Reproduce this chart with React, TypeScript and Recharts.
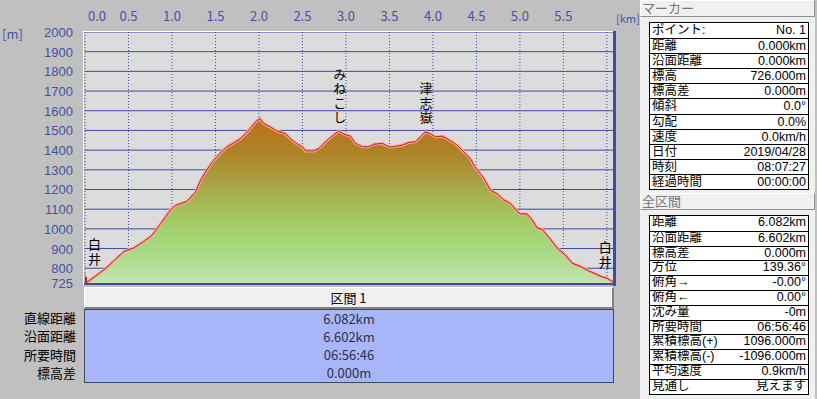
import React from 'react';
import { ComposedChart, Area, Line, Scatter, XAxis, YAxis, CartesianGrid } from 'recharts';

const distanceKm = [0, 0.03, 0.12, 0.24, 0.33, 0.45, 0.56, 0.68, 0.77, 0.87, 0.98, 1.04, 1.17, 1.27, 1.33, 1.40, 1.48, 1.56, 1.63, 1.71, 1.79, 1.845, 1.90, 1.96, 2.01, 2.055, 2.13, 2.21, 2.305, 2.36, 2.44, 2.50, 2.535, 2.63, 2.69, 2.765, 2.84, 2.92, 2.976, 3.05, 3.11, 3.19, 3.265, 3.32, 3.42, 3.49, 3.55, 3.645, 3.72, 3.80, 3.856, 3.91, 3.97, 4.03, 4.105, 4.16, 4.24, 4.30, 4.355, 4.41, 4.44, 4.47, 4.51, 4.585, 4.66, 4.74, 4.815, 4.89, 4.97, 5.005, 5.08, 5.14, 5.20, 5.255, 5.35, 5.43, 5.52, 5.60, 5.695, 5.79, 5.89, 5.945, 6.00, 6.06, 6.082];
const elevationM = [726, 731, 760, 800, 837, 886, 903, 937, 967, 1026, 1094, 1119, 1139, 1186, 1248, 1299, 1349, 1386, 1417, 1437, 1459, 1484, 1510, 1543, 1560, 1535, 1518, 1496, 1484, 1459, 1430, 1417, 1396, 1396, 1409, 1442, 1471, 1498, 1481, 1471, 1434, 1417, 1417, 1430, 1434, 1417, 1417, 1425, 1439, 1442, 1467, 1491, 1484, 1467, 1471, 1459, 1437, 1417, 1391, 1366, 1349, 1324, 1300, 1257, 1197, 1177, 1147, 1130, 1088, 1076, 1076, 1046, 1004, 998, 948, 902, 868, 826, 809, 787, 767, 756, 750, 733, 726];

const xTicks = [0, 0.5, 1.0, 1.5, 2.0, 2.5, 3.0, 3.5, 4.0, 4.5, 5.0, 5.5, 6.0];
const yTicks = [725, 800, 900, 1000, 1100, 1200, 1300, 1400, 1500, 1600, 1700, 1800, 1900, 2000];

const annotationKm = [0.11, 2.93, 3.92, 5.98];
const annotationElev = [808, 1527, 1527, 792];
const annotationText = ['白井', 'みねこし', '津志嶽', '白井'];

const markerLabels = ['ポイント:', '距離', '沿面距離', '標高', '標高差', '傾斜', '勾配', '速度', '日付', '時刻', '経過時間'];
const markerValues = ['No. 1', '0.000km', '0.000km', '726.000m', '0.000m', '0.0°', '0.0%', '0.0km/h', '2019/04/28', '08:07:27', '00:00:00'];

const totalLabels = ['距離', '沿面距離', '標高差', '方位', '俯角→', '俯角←', '沈み量', '所要時間', '累積標高(+)', '累積標高(-)', '平均速度', '見通し'];
const totalValues = ['6.082km', '6.602km', '0.000m', '139.36°', '-0.00°', '0.00°', '-0m', '06:56:46', '1096.000m', '-1096.000m', '0.9km/h', '見えます'];

const sectionTitle = '区間 1';
const sectionLabels = ['直線距離', '沿面距離', '所要時間', '標高差'];
const sectionValues = ['6.082km', '6.602km', '06:56:46', '0.000m'];

const profile = distanceKm.map((km, i) => ({ km, elev: elevationM[i] }));
const annotations = annotationKm.map((km, i) => ({ km, elev: annotationElev[i], text: annotationText[i] }));
const startPoint = [{ km: distanceKm[0], elev: elevationM[0] }];

const FONT = '"Noto Sans CJK JP", "Noto Sans", sans-serif';
const TABLE_FONT = '"Liberation Sans", "Noto Sans CJK JP", sans-serif';
const BLUE = '#3c4aa6';
const TICK_BLUE = '#4452a4';

const XTick = (props: any) => {
  const { x, payload } = props;
  const v = payload.value as number;
  if (v >= 6) return <g />;
  const dx = v === 0 ? 12 : 0;
  return (
    <text x={x + dx} y={21} textAnchor="middle" fill={TICK_BLUE} fontSize={13} fontFamily={FONT}>
      {v.toFixed(1)}
    </text>
  );
};

const YTick = (props: any) => {
  const { y, payload } = props;
  return (
    <text x={73} y={y + 5} textAnchor="end" fill={TICK_BLUE} fontSize={13} fontFamily={TABLE_FONT}>
      {payload.value}
    </text>
  );
};

const VerticalText = (props: any) => {
  const { cx, cy, payload } = props;
  return (
    <text
      x={cx}
      y={cy}
      textAnchor="end"
      fontSize={13}
      fontFamily={FONT}
      fill="#000"
      letterSpacing={1.5}
      style={{ writingMode: 'vertical-rl' }}
    >
      {payload.text}
    </text>
  );
};

const StartMarker = (props: any) => {
  const { cx, cy } = props;
  return (
    <g>
      <rect x={cx - 5} y={cy - 6} width={7} height={7} fill="#b02828" />
      <circle cx={cx - 1} cy={cy - 8} r={2} fill="#c89070" />
      <line x1={cx - 3} y1={cy + 1} x2={cx - 4} y2={cy + 5} stroke="#503020" strokeWidth={1.5} />
      <line x1={cx} y1={cy + 1} x2={cx + 1} y2={cy + 5} stroke="#503020" strokeWidth={1.5} />
    </g>
  );
};

const tableBox = (top: number, labels: string[], values: string[], rowH: number) => (
  <div
    style={{
      position: 'absolute',
      left: 649,
      top,
      width: 160,
      border: '1px solid #000',
      background: '#fff',
      boxSizing: 'border-box',
    }}
  >
    {labels.map((l, i) => (
      <div
        key={i}
        style={{
          height: rowH,
          lineHeight: rowH - 1 + 'px',
          borderTop: i === 0 ? 'none' : '1px solid #000',
          display: 'flex',
          justifyContent: 'space-between',
          padding: '0 2px',
          fontSize: 12.5,
          fontFamily: TABLE_FONT,
          color: '#000',
          boxSizing: 'border-box',
          whiteSpace: 'nowrap',
        }}
      >
        <span>{l}</span>
        <span>{values[i]}</span>
      </div>
    ))}
  </div>
);

const headerBox = (top: number, text: string) => (
  <div
    style={{
      position: 'absolute',
      left: 640,
      top,
      width: 175,
      height: 17,
      background: '#f0f0f0',
      borderTop: '1px solid #fff',
      borderLeft: '1px solid #fff',
      borderRight: '1px solid #909090',
      borderBottom: '1px solid #909090',
      boxSizing: 'border-box',
      fontSize: 13,
      lineHeight: '15px',
      fontFamily: TABLE_FONT,
      color: '#777',
      paddingLeft: 1,
    }}
  >
    {text}
  </div>
);

export default function App() {
  return (
    <div
      style={{
        position: 'fixed',
        left: 0,
        top: 0,
        width: 817,
        height: 399,
        background: '#c0c0c0',
        overflow: 'hidden',
        fontFamily: FONT,
      }}
    >
      <div style={{ position: 'absolute', left: 85, top: 32, width: 529, height: 251, background: '#dcdcdc' }} />
      <div style={{ position: 'absolute', left: 0, top: 0 }}>
        <ComposedChart width={640} height={300} data={profile} margin={{ top: 0, left: 0, right: 26, bottom: 17 }}>
          <defs>
            <linearGradient id="elevFill" x1="0" y1="0" x2="0" y2="1">
              <stop offset="0%" stopColor="#b8721a" />
              <stop offset="20%" stopColor="#ae8226" />
              <stop offset="40%" stopColor="#a8a444" />
              <stop offset="60%" stopColor="#a4c862" />
              <stop offset="76%" stopColor="#a4d87a" />
              <stop offset="100%" stopColor="#c2e4b0" />
            </linearGradient>
          </defs>
          <XAxis
            dataKey="km"
            type="number"
            orientation="top"
            domain={[0, 6.082]}
            ticks={xTicks}
            height={32}
            axisLine={false}
            tickLine={false}
            tick={<XTick />}
            interval={0}
            allowDataOverflow
          />
          <YAxis
            type="number"
            domain={[725, 2000]}
            ticks={yTicks}
            width={85}
            axisLine={false}
            tickLine={false}
            tick={<YTick />}
            interval={0}
            allowDataOverflow
          />
          <CartesianGrid vertical={false} stroke={BLUE} strokeWidth={1} />
          <CartesianGrid horizontal={false} stroke={BLUE} strokeWidth={1} strokeDasharray="1 2" />
          <Area
            dataKey="elev"
            type="linear"
            fill="url(#elevFill)"
            fillOpacity={1}
            stroke="#f6a8a0"
            strokeWidth={3}
            isAnimationActive={false}
            dot={false}
            activeDot={false}
          />
          <Line
            dataKey="elev"
            type="linear"
            stroke="#c81c14"
            strokeWidth={1}
            dot={false}
            activeDot={false}
            isAnimationActive={false}
          />
          <Scatter data={annotations} dataKey="elev" shape={<VerticalText />} isAnimationActive={false} />
          <Scatter data={startPoint} dataKey="elev" shape={<StartMarker />} isAnimationActive={false} />
        </ComposedChart>
      </div>
      <div style={{ position: 'absolute', left: 84, top: 31, width: 531, height: 1, background: '#fff' }} />
      <div style={{ position: 'absolute', left: 83, top: 31, width: 1, height: 254, background: '#fff' }} />
      <div style={{ position: 'absolute', left: 613, top: 31, width: 3, height: 255, background: '#4048a8' }} />
      <div style={{ position: 'absolute', left: 84, top: 283, width: 532, height: 2, background: '#4048a8' }} />

      <div style={{ position: 'absolute', left: 2, top: 24, fontSize: 13, color: TICK_BLUE }}>[m]</div>

      <div
        style={{
          position: 'absolute',
          left: 84,
          top: 287,
          width: 530,
          height: 22,
          background: '#f0f0f0',
          borderTop: '1px solid #fff',
          borderLeft: '1px solid #fff',
          borderRight: '2px solid #808080',
          borderBottom: '2px solid #808080',
          boxSizing: 'border-box',
          textAlign: 'center',
          fontSize: 13,
          lineHeight: '20px',
          color: '#000',
        }}
      >
        {sectionTitle}
      </div>
      <div
        style={{
          position: 'absolute',
          left: 84,
          top: 309,
          width: 530,
          height: 74,
          background: '#a6b6f8',
          border: '1px solid #404858',
          boxSizing: 'border-box',
        }}
      >
        {sectionValues.map((v, i) => (
          <div key={i} style={{ height: 18, lineHeight: '18px', textAlign: 'center', fontSize: 13, color: '#303048' }}>
            {v}
          </div>
        ))}
      </div>
      <div style={{ position: 'absolute', left: 0, top: 310, width: 76 }}>
        {sectionLabels.map((l, i) => (
          <div
            key={i}
            style={{ height: 18.3, lineHeight: '18px', textAlign: 'right', fontSize: 13, fontFamily: TABLE_FONT, color: '#000' }}
          >
            {l}
          </div>
        ))}
      </div>

      <div style={{ position: 'absolute', left: 640, top: 0, width: 175, height: 399, background: '#f0f0f0' }} />
      {headerBox(0, 'マーカー')}
      {tableBox(22, markerLabels, markerValues, 15.1)}
      {headerBox(193, '全区間')}
      {tableBox(215, totalLabels, totalValues, 14.8)}
      <div style={{ position: 'absolute', left: 616, top: 10, fontSize: 11, color: TICK_BLUE, whiteSpace: 'nowrap' }}>[km]</div>
    </div>
  );
}
